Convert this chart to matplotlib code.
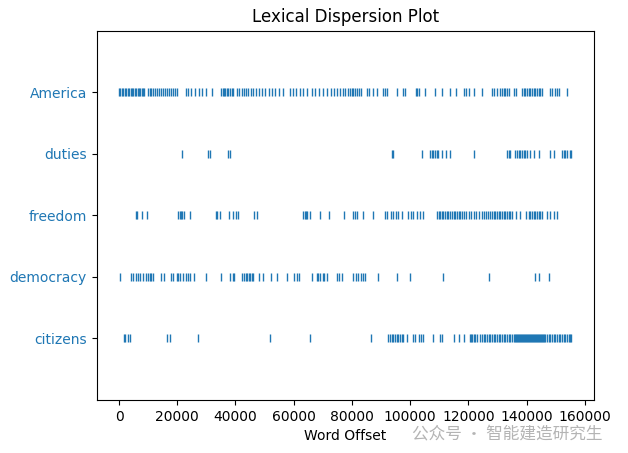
import matplotlib
matplotlib.use("Agg")
import matplotlib.pyplot as plt

# word offsets, one list per word
america = [100, 430, 890, 1350, 1920, 2500, 2950, 3410, 3990, 4450, 4900, 5480, 5940,
           6400, 6850, 7310, 7770, 8230, 8690, 9950, 10530, 11100, 11670, 12360, 13050,
           13740, 14420, 15110, 15800, 16490, 17180, 17870, 18550, 19240, 19930, 22910,
           23720, 24860, 26010, 27390, 28650, 30020, 31970, 35190, 35640, 36100, 36560,
           37020, 37480, 38050, 38630, 39200, 40350, 41270, 42180, 42870, 43560, 44360,
           45160, 46080, 47000, 47920, 49070, 50210, 51360, 52510, 53650, 54800, 56180,
           58700, 59620, 60760, 62140, 63290, 64660, 66270, 67420, 68560, 70170, 71320,
           72690, 73840, 74990, 75900, 76820, 77740, 78770, 79320, 79900, 80470, 81040,
           81840, 82530, 83220, 85290, 85970, 87350, 88730, 90790, 91480, 91940, 95380,
           97670, 98250, 102030, 102490, 102950, 105130, 108570, 110860, 113730, 115800,
           118550, 119240, 120150, 121760, 124510, 128070, 128870, 129790, 130710, 131510,
           132080, 132660, 133230, 133800, 135520, 136440, 138390, 138960, 139540, 140110,
           140690, 141260, 141830, 142410, 142980, 143550, 144130, 144700, 145270, 147910,
           148830, 149750, 150440, 151010, 153880]
duties = [21540, 30600, 31400, 37480, 38050, 93660, 94230, 104100, 106850, 107420,
          108000, 108570, 109140, 109720, 110860, 112350, 113730, 121760, 133230, 133800,
          134380, 136100, 136670, 137250, 137820, 138390, 138960, 139540, 140110, 141260,
          142410, 144130, 147910, 149520, 152160, 152730, 153300, 153880, 154790, 155250]
freedom = [5710, 6170, 7770, 9610, 20270, 20850, 21310, 21770, 22220, 24290, 33240,
           33690, 34610, 37820, 39200, 40120, 40810, 46310, 47230, 63290, 63750, 64210,
           64660, 65580, 69020, 72240, 77400, 80470, 81040, 81840, 83680, 87350, 91370,
           91940, 93310, 94230, 95150, 95950, 97100, 99390, 100200, 101110, 102490,
           103410, 104560, 109370, 109830, 110290, 110860, 111440, 112010, 112580, 113160,
           113730, 114300, 114880, 115450, 116030, 116600, 117170, 117750, 118320, 119240,
           120040, 120840, 121760, 122680, 123480, 124630, 125430, 126120, 126580, 127270,
           128070, 128640, 129220, 129790, 130360, 130940, 131510, 132080, 132660, 133230,
           133800, 134380, 134950, 136440, 137820, 139880, 140690, 141260, 141830, 142410,
           142980, 143550, 144130, 144700, 145270, 146990, 148140, 149290, 150440]
democracy = [200, 4220, 4790, 5710, 6510, 7310, 8230, 9150, 9950, 10530, 11100, 11670,
             14310, 15340, 17980, 18550, 19930, 20390, 20850, 21990, 22910, 23720, 24290,
             25780, 30020, 35190, 38280, 39200, 39540, 42300, 42870, 43560, 44020, 44480,
             44930, 45510, 46080, 48150, 49520, 52160, 54110, 57550, 60190, 60990, 61910,
             66270, 67880, 68450, 69020, 69940, 70400, 71320, 74990, 75680, 76590, 80240,
             81390, 82190, 82990, 83680, 84370, 89070, 95380, 99970, 111440, 126920,
             142980, 144130, 147570]
citizens = [1580, 2040, 3070, 3640, 16490, 17410, 27160, 51820, 65580, 86430, 92510,
            93090, 93660, 94230, 94810, 95380, 95950, 96530, 97100, 97670, 98820, 100880,
            101690, 103180, 103640, 104330, 108000, 110290, 110860, 114880, 116600, 118320,
            120380, 120840, 121300, 121760, 122330, 122910, 124050, 124630, 125200, 125770,
            126350, 126920, 127500, 128070, 128640, 129220, 129790, 130360, 130940, 131510,
            132080, 132660, 133230, 133800, 134380, 134950, 135520, 135870, 136210, 136560,
            136900, 137250, 137590, 137930, 138280, 138620, 138960, 139310, 139650, 139990,
            140340, 140690, 141030, 141370, 141720, 142060, 142410, 142750, 143090, 143440,
            143780, 144130, 144470, 144810, 145160, 145500, 145850, 146420, 146990, 147570,
            148140, 148720, 149290, 149860, 150440, 151010, 151580, 152160, 152730, 153300,
            153880, 154450, 155020, 155400]

words = ["citizens", "democracy", "freedom", "duties", "America"]
offsets = [citizens, democracy, freedom, duties, america]

fig, ax = plt.subplots(figsize=(6.28, 4.53), dpi=100)
fig.subplots_adjust(left=0.154, right=0.946, top=0.932, bottom=0.117)

xs, ys = [], []
for y, offs in enumerate(offsets):
    xs += offs
    ys += [y] * len(offs)
ax.plot(xs, ys, "|")

ax.set_yticks(list(range(len(words))), words, color="C0")
ax.set_ylim(-1, len(words))
ax.set_title("Lexical Dispersion Plot")
ax.set_xlabel("Word Offset")

# watermark, kept below the tick labels
fig.text(0.656, 0.042, "公众号 · 智能建造研究生", color="#b4b4b4", fontsize=12,
         family=["Noto Sans CJK SC", "DejaVu Sans"], va="center")

fig.savefig("out.png")
